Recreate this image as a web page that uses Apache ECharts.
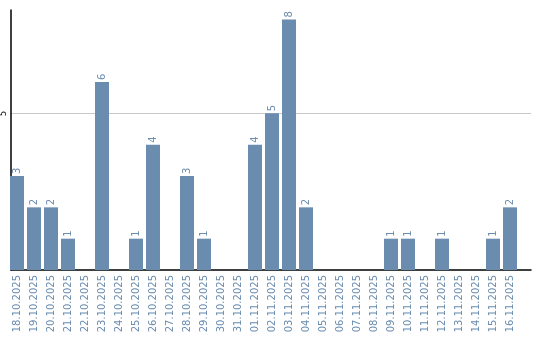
<!DOCTYPE html>
<html><head><meta charset="utf-8">
<script src="https://cdn.jsdelivr.net/npm/echarts@6/dist/echarts.min.js"></script>
<style>html,body{margin:0;padding:0;background:#fff}#c{width:540px;height:340px}</style>
</head><body><div id="c"></div>
<script>
const categories = ['18.10.2025','19.10.2025','20.10.2025','21.10.2025','22.10.2025','23.10.2025','24.10.2025','25.10.2025','26.10.2025','27.10.2025','28.10.2025','29.10.2025','30.10.2025','31.10.2025','01.11.2025','02.11.2025','03.11.2025','04.11.2025','05.11.2025','06.11.2025','07.11.2025','08.11.2025','09.11.2025','10.11.2025','11.11.2025','12.11.2025','13.11.2025','14.11.2025','15.11.2025','16.11.2025'];
const values = [3,2,2,1,0,6,0,1,4,0,3,1,0,0,4,5,8,2,0,0,0,0,1,1,0,1,0,0,1,2];
const yMax = 8.3;
const yTick = 5;
const blue = '#6a8caf';
const chart = echarts.init(document.getElementById('c'));
chart.setOption({
  animation: false,
  grid: [
    {left: 10, right: 9, top: 10, bottom: 70},
    {left: 8.5, right: 21.5, top: 10, bottom: 70}
  ],
  xAxis: [
    {gridIndex: 0, type: 'value', min: 0, max: 1, axisLine: {show: true, onZero: false, lineStyle: {color: '#000', width: 1.5}}, axisTick: {show: false}, axisLabel: {show: false}, splitLine: {show: false}},
    {gridIndex: 1, type: 'category', data: categories, axisLine: {show: false}, axisTick: {show: false},
     axisLabel: {interval: 0, rotate: 90, color: blue, fontFamily: 'DejaVu Sans', fontSize: 10, margin: 5}}
  ],
  yAxis: [
    {gridIndex: 0, type: 'value', min: 0, max: yMax, interval: yTick,
     axisLine: {show: true, lineStyle: {color: '#000', width: 1.5}}, axisTick: {show: false},
     splitLine: {show: true, showMinLine: false, showMaxLine: false, lineStyle: {color: '#c8c8c8', width: 1}},
     axisLabel: {color: '#000', fontFamily: 'DejaVu Sans', fontSize: 8, rotate: 90, margin: 3,
       showMinLabel: false, showMaxLabel: false,
       formatter: v => (v > 0 && v % yTick === 0) ? String(v) : ''}},
    {gridIndex: 1, type: 'value', min: 0, max: yMax, show: false, splitLine: {show: false}}
  ],
  series: [{
    type: 'bar', xAxisIndex: 1, yAxisIndex: 1,
    data: values.map(v => v === 0 ? {value: 0, label: {show: false}} : v),
    barWidth: 14,
    itemStyle: {color: blue},
    label: {show: true, position: 'top', rotate: 90, align: 'left', verticalAlign: 'middle', distance: 2,
      color: blue, fontFamily: 'DejaVu Sans', fontSize: 10}
  }]
});
</script></body></html>
